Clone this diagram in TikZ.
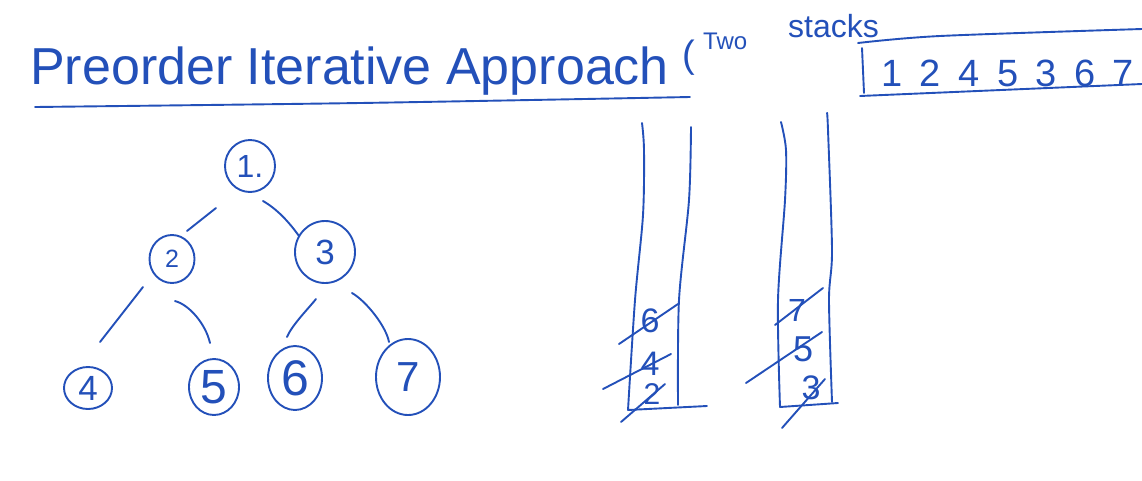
\documentclass[tikz,border=0pt]{standalone}
\usepackage{fontspec}
\setmainfont{Liberation Sans}
\usetikzlibrary{shapes.geometric}
\definecolor{ink}{RGB}{35,80,185}
\begin{document}
\begin{tikzpicture}[x=1pt,y=-1pt,line cap=round,line join=round,
  inkline/.style={draw=ink,line width=1.9pt},
  tnode/.style={ellipse,draw=ink,line width=1.9pt,inner sep=0pt,text=ink},
  lbl/.style={text=ink,inner sep=0pt},
  sz/.style={font=\fontsize{#1}{#1}\selectfont}]
\useasboundingbox (0,0) rectangle (1142,480);
% title
\node[lbl,anchor=base west,sz=52] (title) at (30,84) {Preorder Iterative Approach};
\node[lbl,anchor=base west,sz=38] (paren) at (682,67) {(};
\node[lbl,anchor=base west,sz=24] (two) at (703,49) {Two};
\node[lbl,anchor=base west,sz=32] (stacks) at (788,37) {stacks};
\draw[inkline] plot[smooth] coordinates {(35,107) (360,103) (690,97)};
% result box
\draw[inkline] plot[smooth] coordinates {(858,43) (940,36) (1142,29)};
\draw[inkline] (862,48) -- (864,93);
\draw[inkline] (860,96) -- (1142,84);
\node[lbl,anchor=base west,font=\fontsize{38}{38}\selectfont\addfontfeature{LetterSpace=46}] (seq) at (881,86) {1245367};
% tree
\node[tnode,minimum width=50pt,minimum height=52pt,sz=32] (n1) at (250,166) {1.};
\node[tnode,minimum width=45pt,minimum height=48pt,sz=25] (n2) at (172,259) {2};
\node[tnode,minimum width=60pt,minimum height=62pt,sz=35] (n3) at (325,252) {3};
\node[tnode,minimum width=48pt,minimum height=42pt,sz=35] (n4) at (88,388) {4};
\node[tnode,minimum width=50pt,minimum height=56pt,sz=48] (n5) at (214,387) {5};
\node[tnode,minimum width=54pt,minimum height=64pt,sz=50] (n6) at (295,378) {6};
\node[tnode,minimum width=64pt,minimum height=76pt,sz=42] (n7) at (408,377) {7};
\coordinate (e12a) at ([shift={(-34,42)}]n1.center);
\coordinate (e12b) at ([shift={(15,-28)}]n2.center);
\coordinate (e13a) at ([shift={(13,35)}]n1.center);
\coordinate (e13b) at ([shift={(-26,-16)}]n3.center);
\coordinate (e24a) at ([shift={(-29,28)}]n2.center);
\coordinate (e24b) at ([shift={(12,-46)}]n4.center);
\coordinate (e25a) at ([shift={(3,42)}]n2.center);
\coordinate (e25b) at ([shift={(-4,-44)}]n5.center);
\coordinate (e36a) at ([shift={(-9,47)}]n3.center);
\coordinate (e36b) at ([shift={(-8,-41)}]n6.center);
\coordinate (e37a) at ([shift={(27,41)}]n3.center);
\coordinate (e37b) at ([shift={(-19,-35)}]n7.center);
\draw[inkline] (e12a) -- (e12b);
\draw[inkline] (e13a) .. controls +(14,8) and +(-10,-14) .. (e13b);
\draw[inkline] (e24a) -- (e24b);
\draw[inkline] (e25a) .. controls +(15,4) and +(-4,-18) .. (e25b);
\draw[inkline] (e36a) .. controls +(-8,10) and +(5,-12) .. (e36b);
\draw[inkline] (e37a) .. controls +(14,8) and +(-3,-16) .. (e37b);
% stacks
\draw[inkline] plot[smooth] coordinates {(642,123) (644,150) (643,215) (635,300) (628,410)};
\draw[inkline] plot[smooth] coordinates {(691,127) (689,200) (679,300) (678,405)};
\draw[inkline] (628,410) -- (707,406);
\draw[inkline] plot[smooth] coordinates {(781,122) (786,150) (785,200) (778,300) (780,407)};
\draw[inkline] plot[smooth] coordinates {(827,113) (828,130) (832,250) (829,300) (832,402)};
\draw[inkline] (780,407) -- (838,403);
\node[lbl,sz=34] (s6) at (650,321) {6};
\node[lbl,sz=34] (s4) at (650,364) {4};
\node[lbl,sz=30] (s2) at (652,394) {2};
\node[lbl,sz=32] (t7) at (797,310) {7};
\node[lbl,sz=36] (t5) at (803,349) {5};
\node[lbl,sz=34] (t3) at (811,388) {3};
\draw[inkline] (619,344) -- (678,304);
\draw[inkline] (603,389) -- (671,354);
\draw[inkline] (621,422) -- (665,384);
\draw[inkline] (775,325) -- (823,288);
\draw[inkline] (746,383) -- (822,332);
\draw[inkline] (782,428) -- (825,379);
\end{tikzpicture}
\end{document}
